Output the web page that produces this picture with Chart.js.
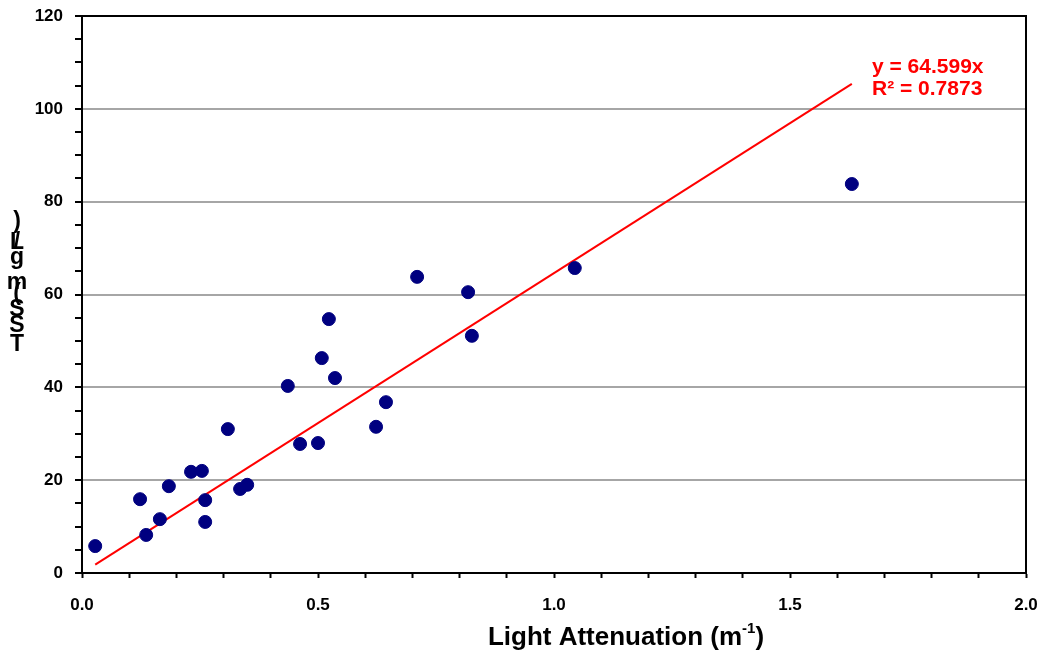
<!DOCTYPE html>
<html>
<head>
<meta charset="utf-8">
<script src="https://cdn.jsdelivr.net/npm/chart.js"></script>
<style>
    html, body { margin: 0; padding: 0; background: #fff; }
    #wrap { width: 1041px; height: 651px; }
</style>
</head>
<body>
<div id="wrap"><canvas id="chart" width="1041" height="651"></canvas></div>
<script>
// 数据
const attenuation = [0.028, 0.123, 0.136, 0.165, 0.184, 0.231, 0.254, 0.261, 0.261, 0.309,
    0.335, 0.350, 0.436, 0.462, 0.500, 0.508, 0.523, 0.536, 0.623, 0.644,
    0.710, 0.818, 0.826, 1.044, 1.631];
const tss = [5.8, 15.9, 8.2, 11.6, 18.7, 21.8, 22.0, 15.7, 11.0, 31.0,
    18.1, 19.0, 40.3, 27.8, 28.0, 46.3, 54.7, 42.0, 31.5, 36.8,
    63.8, 60.5, 51.1, 65.7, 83.8];
const slope = 64.599;
const rSquared = 0.7873;
const yTitle = 'TSS (mg/L)';
const xTitle = 'Light Attenuation (m';

const points = attenuation.map((x, i) => ({ x: x, y: tss[i] }));
const minX = Math.min(...attenuation);
const maxX = Math.max(...attenuation);
const trend = [{ x: minX, y: slope * minX }, { x: maxX, y: slope * maxX }];

const FAMILY = 'Liberation Sans, Arial, sans-serif';
const tickFont = { family: FAMILY, size: 17, weight: 'bold' };

// 边框和标题
const extras = {
    id: 'extras',
    afterDatasetsDraw(chart) {
        const ctx = chart.ctx;
        const a = chart.chartArea;
        ctx.save();
        // 上边和右边框
        ctx.strokeStyle = '#000';
        ctx.lineWidth = 2;
        ctx.beginPath();
        ctx.moveTo(a.left, a.top);
        ctx.lineTo(a.right, a.top);
        ctx.lineTo(a.right, a.bottom);
        ctx.stroke();

        // 趋势线公式
        ctx.fillStyle = '#ff0000';
        ctx.font = 'bold 21px ' + FAMILY;
        ctx.textAlign = 'left';
        ctx.textBaseline = 'alphabetic';
        ctx.fillText('y = ' + slope + 'x', 872, 73);
        ctx.fillText('R\u00b2 = ' + rSquared, 872, 95);

        // x轴标题 (带上标)
        ctx.fillStyle = '#000';
        ctx.font = 'bold 26px ' + FAMILY;
        const w1 = ctx.measureText(xTitle).width;
        const w3 = ctx.measureText(')').width;
        ctx.font = 'bold 15px ' + FAMILY;
        const w2 = ctx.measureText('-1').width;
        const x0 = 626 - (w1 + w2 + w3) / 2;
        ctx.font = 'bold 26px ' + FAMILY;
        ctx.fillText(xTitle, x0, 645);
        ctx.fillText(')', x0 + w1 + w2, 645);
        ctx.font = 'bold 15px ' + FAMILY;
        ctx.fillText('-1', x0 + w1, 633);

        // y轴标题 (字符叠在一起)
        ctx.textAlign = 'center';
        ctx.textBaseline = 'middle';
        ctx.font = 'bold 23px ' + FAMILY;
        const centers = [345, 326, 310, 0, 294, 283, 258, 243, 243, 222];
        yTitle.split('').forEach((ch, i) => {
            if (ch === ' ') return;
            ctx.fillText(ch, 17, centers[i]);
        });
        ctx.restore();
    }
};

new Chart(document.getElementById('chart'), {
    type: 'scatter',
    data: {
        datasets: [{
            data: points,
            backgroundColor: '#000080',
            borderColor: '#000080',
            pointRadius: 6.5,
            pointHoverRadius: 6.5,
            order: 0
        }, {
            type: 'line',
            data: trend,
            borderColor: '#ff0000',
            borderWidth: 2,
            pointRadius: 0,
            fill: false,
            order: 1
        }]
    },
    options: {
        responsive: false,
        animation: false,
        devicePixelRatio: 1,
        layout: { padding: { left: 0, right: 15, top: 16, bottom: 0 } },
        plugins: {
            legend: { display: false },
            tooltip: { enabled: false }
        },
        scales: {
            x: {
                type: 'linear',
                min: 0,
                max: 2,
                afterFit(scale) {
                    scale.height = 78;
                    scale.paddingLeft = 0;
                    scale.paddingRight = 0;
                },
                ticks: {
                    stepSize: 0.1,
                    autoSkip: false,
                    maxRotation: 0,
                    padding: 17,
                    color: '#000',
                    font: tickFont,
                    callback: v => Math.round(v * 10) % 5 === 0 ? v.toFixed(1) : ''
                },
                grid: {
                    color: 'transparent',
                    tickColor: '#000',
                    tickLength: 5,
                    tickWidth: 2
                },
                border: { color: '#000', width: 2 }
            },
            y: {
                min: 0,
                max: 120,
                afterFit(scale) {
                    scale.width = 82;
                    scale.paddingTop = 0;
                    scale.paddingBottom = 0;
                },
                ticks: {
                    stepSize: 5,
                    autoSkip: false,
                    padding: 12,
                    color: '#000',
                    font: tickFont,
                    callback: v => v % 20 === 0 ? v : ''
                },
                grid: {
                    color: c => (c.tick && c.tick.value % 20 === 0 && c.tick.value > 0 && c.tick.value < 120) ? '#a6a6a6' : 'transparent',
                    lineWidth: 2,
                    tickColor: '#000',
                    tickLength: 7,
                    tickWidth: 2
                },
                border: { color: '#000', width: 2 }
            }
        }
    },
    plugins: [extras]
});
</script>
</body>
</html>
